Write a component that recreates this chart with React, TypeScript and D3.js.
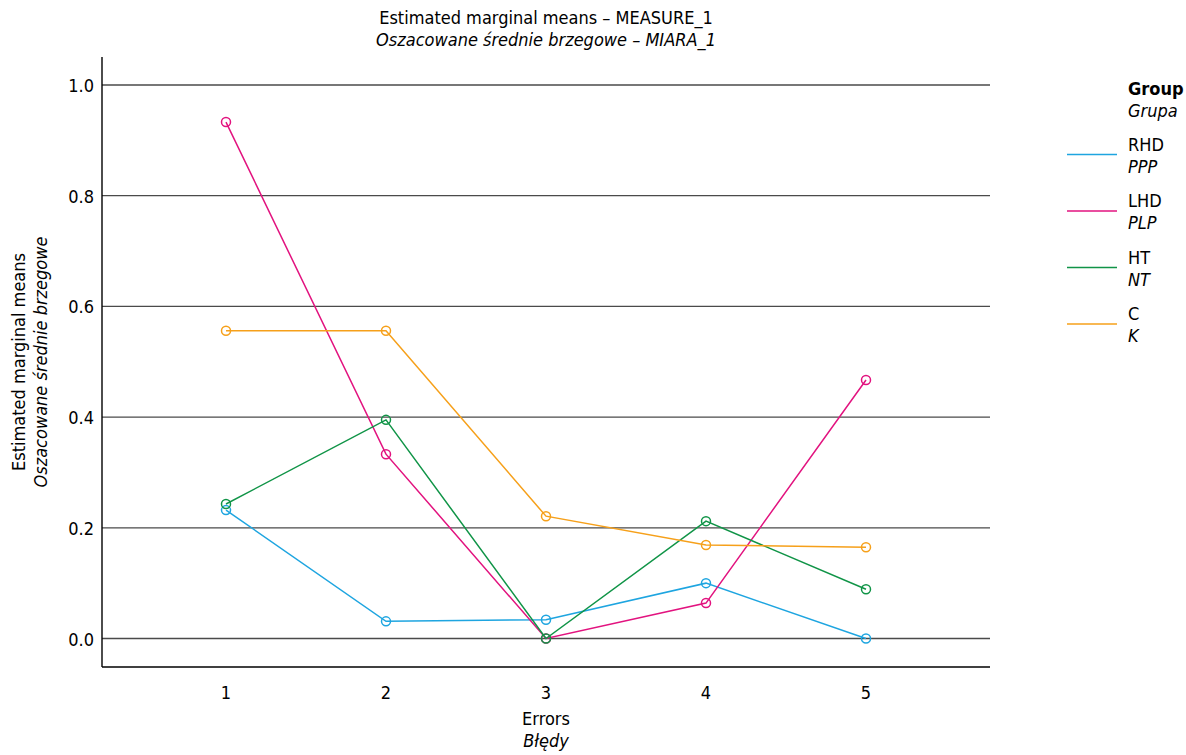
import React from "react";
import * as d3 from "d3";

// categories on the x axis (Errors / Błędy)
const errors = ["1", "2", "3", "4", "5"];

// series
const rhd = [0.232, 0.031, 0.034, 0.1, 0.0];
const lhd = [0.933, 0.333, 0.0, 0.064, 0.467];
const ht = [0.243, 0.395, 0.0, 0.212, 0.089];
const ctrl = [0.556, 0.556, 0.221, 0.169, 0.165];

const yTicks = [0, 0.2, 0.4, 0.6, 0.8, 1.0];

const groups = [
  { en: "RHD", pl: "PPP", values: rhd, color: "#1ea5e0" },
  { en: "LHD", pl: "PLP", values: lhd, color: "#e2137f" },
  { en: "HT", pl: "NT", values: ht, color: "#109447" },
  { en: "C", pl: "K", values: ctrl, color: "#f6a01a" },
];

const W = 1186;
const H = 755;
const left = 102;
const right = 990;
const top = 57;
const bottom = 667;
const font = "'DejaVu Sans Condensed', 'DejaVu Sans', sans-serif";

export default function App() {
  const x = d3.scalePoint<string>().domain(errors).range([left, right]).padding(0.775);
  const y = d3.scaleLinear().domain([0, 1]).range([638.5, 85]);
  const line = d3
    .line<number>()
    .x((_, i) => x(errors[i]) as number)
    .y((d) => y(d));
  const midX = (left + right) / 2;
  const midY = (top + bottom) / 2;

  return (
    <svg
      width={W}
      height={H}
      style={{ position: "absolute", left: 0, top: 0, background: "#fff", fontStretch: "condensed" }}
      fontFamily={font}
      fontSize={18}
    >
      {/* title */}
      <text x={midX} y={24} textAnchor="middle">Estimated marginal means – MEASURE_1</text>
      <text x={midX} y={46} textAnchor="middle" fontStyle="italic">
        Oszacowane średnie brzegowe – MIARA_1
      </text>

      {/* grid */}
      {yTicks.map((t) => (
        <g key={t}>
          <line x1={left} x2={right} y1={y(t)} y2={y(t)} stroke="#4a4a4a" strokeWidth={1.3} />
          <text x={left - 8} y={y(t) + 7} textAnchor="end">{t.toFixed(1)}</text>
        </g>
      ))}

      {/* axes */}
      <line x1={left} x2={left} y1={top} y2={bottom} stroke="#000" strokeWidth={1.4} />
      <line x1={left} x2={right} y1={bottom} y2={bottom} stroke="#000" strokeWidth={1.4} />
      {errors.map((e) => (
        <text key={e} x={x(e)} y={699} textAnchor="middle">{e}</text>
      ))}

      {/* axis titles */}
      <text x={midX} y={725} textAnchor="middle">Errors</text>
      <text x={midX} y={747} textAnchor="middle" fontStyle="italic">Błędy</text>
      <g transform={`translate(25,${midY}) rotate(-90)`}>
        <text textAnchor="middle">Estimated marginal means</text>
        <text y={22} textAnchor="middle" fontStyle="italic">Oszacowane średnie brzegowe</text>
      </g>

      {/* series */}
      {groups.map((g) => (
        <g key={g.en}>
          <path d={line(g.values) || ""} fill="none" stroke={g.color} strokeWidth={1.5} />
          {g.values.map((v, i) => (
            <circle
              key={i}
              cx={x(errors[i])}
              cy={y(v)}
              r={4.5}
              fill="none"
              stroke={g.color}
              strokeWidth={1.5}
            />
          ))}
        </g>
      ))}

      {/* legend */}
      <text x={1128} y={95} fontWeight="bold">Group</text>
      <text x={1128} y={117} fontStyle="italic">Grupa</text>
      {groups.map((g, i) => {
        const ly = 154.5 + i * 56.5;
        return (
          <g key={g.en}>
            <line x1={1067} x2={1117} y1={ly} y2={ly} stroke={g.color} strokeWidth={1.5} />
            <text x={1128} y={ly - 4}>{g.en}</text>
            <text x={1128} y={ly + 18} fontStyle="italic">{g.pl}</text>
          </g>
        );
      })}
    </svg>
  );
}
